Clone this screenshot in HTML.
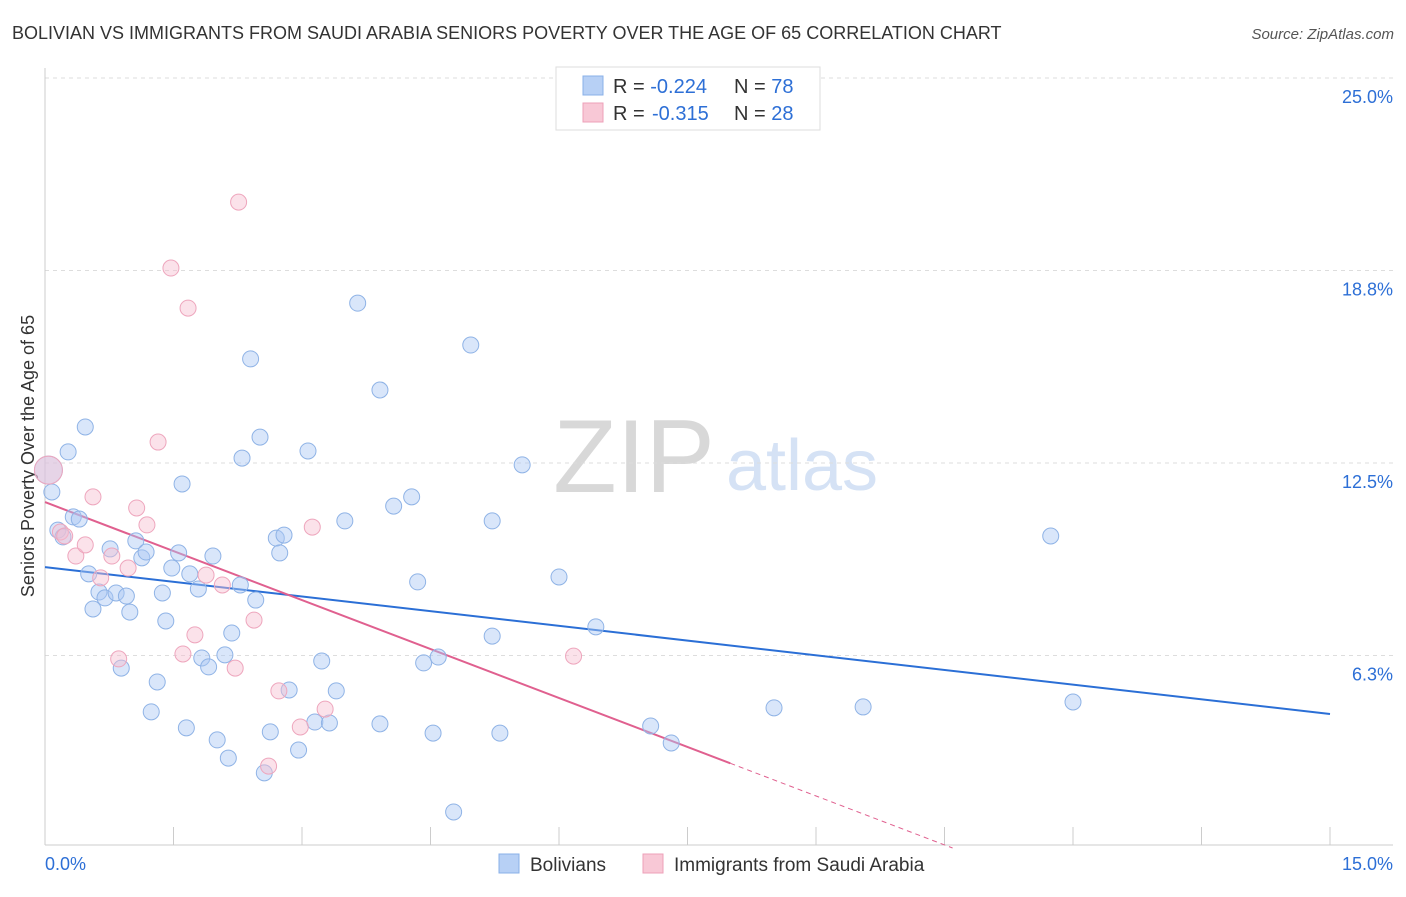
<!DOCTYPE html>
<html><head><meta charset="utf-8"><style>
body{margin:0;background:#fff;font-family:"Liberation Sans",sans-serif;}
svg text{font-family:"Liberation Sans",sans-serif;}
</style></head><body>
<svg id="chart" width="1406" height="892" xmlns="http://www.w3.org/2000/svg">
<text x="12" y="39" font-size="18" fill="#333">BOLIVIAN VS IMMIGRANTS FROM SAUDI ARABIA SENIORS POVERTY OVER THE AGE OF 65 CORRELATION CHART</text>
<text x="1394" y="39" font-size="15" fill="#555" text-anchor="end" font-style="italic">Source: ZipAtlas.com</text>
<text transform="translate(34,456) rotate(-90)" font-size="18" fill="#333" text-anchor="middle">Seniors Poverty Over the Age of 65</text>
<g>
<text x="634" y="492" font-size="104" fill="#d8d8d8" text-anchor="middle" font-family="Liberation Serif">ZIP</text>
<text x="802" y="490" font-size="72" fill="#d5e2f5" text-anchor="middle">atlas</text>
</g>
<g id="grid"></g><g id="axes"></g><g id="trends"></g><g id="points"></g>
<g>
<rect x="556" y="67" width="264" height="63" fill="#fff" stroke="#ddd"/>
<rect x="583" y="76" width="20" height="19" fill="#b7d0f5" stroke="#8ab0e8"/>
<text x="613" y="93" font-size="20" fill="#333">R = <tspan fill="#2d6fd6">-0.224</tspan></text>
<text x="734" y="93" font-size="20" fill="#333">N = <tspan fill="#2d6fd6">78</tspan></text>
<rect x="583" y="103" width="20" height="19" fill="#f8c8d6" stroke="#eea0b8"/>
<text x="613" y="120" font-size="20" fill="#333">R = </text>
<text x="652" y="120" font-size="20" fill="#2d6fd6">-0.315</text>
<text x="734" y="120" font-size="20" fill="#333">N = <tspan fill="#2d6fd6">28</tspan></text>
</g>
<g>
<rect x="499" y="854" width="20" height="19" fill="#b7d0f5" stroke="#8ab0e8"/>
<text x="530" y="871" font-size="19" fill="#333">Bolivians</text>
<rect x="643" y="854" width="20" height="19" fill="#f8c8d6" stroke="#eea0b8"/>
<text x="674" y="871" font-size="19" fill="#333">Immigrants from Saudi Arabia</text>
</g>
</svg>
<script>
const xTickValues=[0,1.5,3,4.5,6,7.5,9,10.5,12,13.5,15];
const yTickValues=[25,18.75,12.5,6.25];
const yTickLabels=["25.0%","18.8%","12.5%","6.3%"];
const xEdgeLabels=["0.0%","15.0%"];
const bolX=[0.04,0.08,0.15,0.21,0.27,0.33,0.40,0.47,0.51,0.56,0.63,0.70,0.76,0.83,0.89,0.95,0.99,1.06,1.13,1.18,1.24,1.31,1.37,1.41,1.48,1.56,1.60,1.65,1.69,1.79,1.83,1.91,1.96,2.01,2.10,2.14,2.18,2.28,2.30,2.40,2.46,2.51,2.56,2.63,2.70,2.74,2.79,2.85,2.96,3.07,3.15,3.23,3.32,3.40,3.50,3.65,3.91,3.91,4.07,4.28,4.35,4.42,4.53,4.59,4.77,4.97,5.22,5.22,5.31,5.57,6.00,6.43,7.07,7.31,8.51,9.55,11.74,12.00];
const bolY=[12.27,11.56,10.32,10.10,12.86,10.75,10.68,13.67,8.90,7.76,8.31,8.12,9.71,8.28,5.84,8.18,7.66,9.97,9.42,9.61,4.42,5.39,8.28,7.37,9.09,9.58,11.82,3.90,8.90,8.41,6.17,5.88,9.48,3.51,6.27,2.92,6.98,8.54,12.66,15.88,8.05,13.34,2.44,3.77,10.06,9.58,10.16,5.13,3.18,12.89,4.09,6.07,4.06,5.10,10.62,17.69,14.87,4.03,11.10,11.40,8.64,6.01,3.73,6.20,1.17,16.33,10.62,6.88,3.73,12.44,8.80,7.18,3.96,3.41,4.55,4.58,10.13,4.74];
const sauX=[0.04,0.18,0.23,0.36,0.47,0.56,0.65,0.78,0.86,0.97,1.07,1.19,1.32,1.47,1.61,1.67,1.75,1.88,2.07,2.22,2.26,2.44,2.61,2.73,2.98,3.12,3.27,6.17];
const sauY=[12.27,10.26,10.13,9.48,9.84,11.40,8.77,9.48,6.14,9.09,11.04,10.49,13.18,18.83,6.30,17.53,6.92,8.86,8.54,5.84,20.97,7.40,2.66,5.10,3.93,10.42,4.51,6.23];
const bolTrend=[9.12,4.35];
const sauTrend=[11.23,-1.06];
const sauSolidEnd=8.0;

const X0=45,X1=1330,Y0=848,PXY=30.8;
const sx=v=>X0+(X1-X0)*v/15;
const sy=v=>Y0-v*PXY;
const NS="http://www.w3.org/2000/svg";
function mk(tag,parent,attrs){const e=document.createElementNS(NS,tag);for(const k in attrs)e.setAttribute(k,attrs[k]);parent.appendChild(e);return e;}
const grid=document.getElementById('grid'),axes=document.getElementById('axes'),tr=document.getElementById('trends'),pts=document.getElementById('points');
yTickValues.forEach((v,i)=>{
  const l=mk('line',grid,{x1:X0,x2:1393,y1:sy(v),y2:sy(v),stroke:'#ddd','stroke-dasharray':'4,4'});
  
  
  const t=mk('text',axes,{x:1393,y:sy(v)+25,'font-size':18,fill:'#2d6fd6','text-anchor':'end'});
  t.textContent=yTickLabels[i];
  
  
});
const ya=mk('line',axes,{x1:X0,x2:X0,y1:68,y2:845,stroke:'#ccc'});


const xa=mk('line',axes,{x1:X0,x2:1393,y1:845,y2:845,stroke:'#ccc'});


xTickValues.forEach(v=>{
  const l=mk('line',axes,{x1:sx(v),x2:sx(v),y1:827,y2:845,stroke:'#ccc'});
  
  
});
[[xEdgeLabels[0],45,'start'],[xEdgeLabels[1],1393,'end']].forEach(a=>{
  const t=mk('text',axes,{x:a[1],y:870,'font-size':18,fill:'#2d6fd6','text-anchor':a[2]});
  t.textContent=a[0];
  
  
});
bolX.forEach((x,i)=>{
  const c=mk('circle',pts,{cx:sx(x),cy:sy(bolY[i]),r:i==0?14:8,fill:'rgba(170,200,245,0.45)',stroke:'#8fb3e6','stroke-width':1});
  
  
});
sauX.forEach((x,i)=>{
  const c=mk('circle',pts,{cx:sx(x),cy:sy(sauY[i]),r:i==0?14:8,fill:'rgba(246,190,208,0.45)',stroke:'#eea6bd','stroke-width':1});
  
  
});
const bl=mk('line',tr,{x1:sx(0),y1:sy(bolTrend[0]),x2:sx(15),y2:sy(bolTrend[1]),stroke:'#2b6fd6','stroke-width':2});


const sv=x=>sauTrend[0]+sauTrend[1]*x;
const pl=mk('line',tr,{x1:sx(0),y1:sy(sv(0)),x2:sx(sauSolidEnd),y2:sy(sv(sauSolidEnd)),stroke:'#e0608f','stroke-width':2});


const xEnd=-sauTrend[0]/sauTrend[1];
const pd=mk('line',tr,{x1:sx(sauSolidEnd),y1:sy(sv(sauSolidEnd)),x2:sx(xEnd),y2:sy(0),stroke:'#e0608f','stroke-width':1,'stroke-dasharray':'5,4'});


</script>
</body></html>
